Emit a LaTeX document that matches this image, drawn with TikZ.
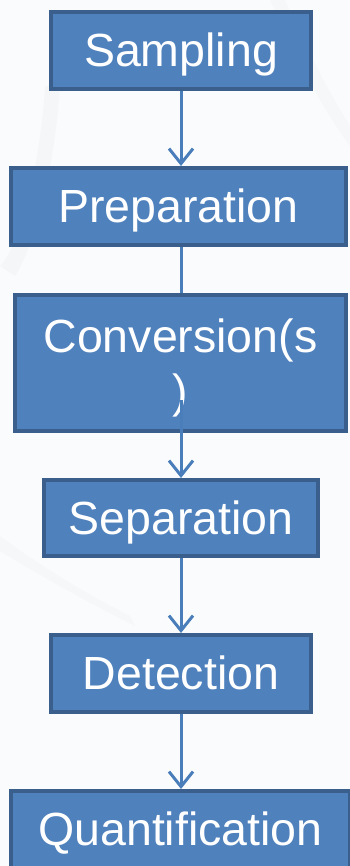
\documentclass[tikz,border=0pt]{standalone}
\usepackage{fontspec}
\setmainfont{Liberation Sans}
\usetikzlibrary{arrows.meta}
\definecolor{boxfill}{HTML}{4F81BD}
\definecolor{boxline}{HTML}{3A5F8C}
\definecolor{linkcol}{HTML}{4A7EBB}
\definecolor{pagebg}{HTML}{FAFBFC}
\definecolor{faint}{HTML}{F1F3F6}
\tikzset{
  stepbox/.style={draw=boxline, fill=boxfill, line width=4pt, inner sep=0pt,
    text=white, font=\fontsize{46.5}{55}\selectfont,
    text height=33pt, text depth=0pt, align=center},
  link/.style={draw=linkcol, line width=3pt},
  flow/.style={link, -{Straight Barb[length=15pt,width=24pt,line width=3pt]}}
}
\begin{document}
\begin{tikzpicture}[x=1pt,y=1pt]
  \useasboundingbox (0,0) rectangle (350,866);
  \clip (0,0) rectangle (350,866);
  % soft backdrop
  \fill[pagebg] (0,0) rectangle (350,866);
  \fill[faint, opacity=0.5] (0,600) .. controls (20,620) and (40,700) .. (45,780)
     -- (60,780) .. controls (55,700) and (35,620) .. (15,590) -- cycle;
  \fill[faint, opacity=0.4] (0,330) .. controls (40,300) and (90,270) .. (130,250)
     -- (135,240) .. controls (95,260) and (40,290) .. (0,315) -- cycle;
  \fill[faint, opacity=0.4] (270,866) .. controls (290,820) and (320,760) .. (350,720)
     -- (350,740) .. controls (325,780) and (300,830) .. (285,866) -- cycle;

  % process steps
  \node[stepbox, minimum width=260pt, minimum height=77pt] (samp) at (181,815.5) {Sampling};
  \node[stepbox, minimum width=335pt, minimum height=77pt] (prep) at (178.5,659.5) {Preparation};
  \node[stepbox, minimum width=331pt, minimum height=136pt, text height=89pt] (conv) at (180.5,503) {Conversion(s\\)};
  \node[stepbox, minimum width=274pt, minimum height=76pt] (sep) at (181,348) {Separation};
  \node[stepbox, minimum width=260pt, minimum height=77pt] (det) at (181,192.5) {Detection};
  \node[stepbox, minimum width=339pt, minimum height=77pt] (quant) at (180.5,36.5) {Quantification};

  % connectors
  \coordinate (cvout) at (181,466);
  \draw[flow] (samp.south) -- (samp.south |- prep.north);
  \draw[link] (prep.south -| samp.south) -- (samp.south |- conv.north);
  \draw[flow] (cvout) -- (cvout |- sep.north);
  \draw[flow] (sep.south) -- (det.north);
  \draw[flow] (det.south) -- (det.south |- quant.north);
\end{tikzpicture}
\end{document}
